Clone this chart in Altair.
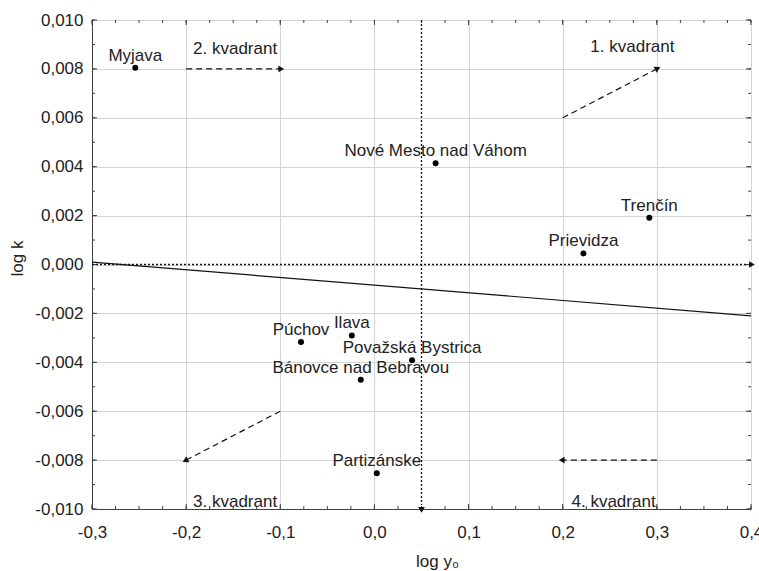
import altair as alt
import pandas as pd

# --- data ---
cities = ["Myjava", "Nové Mesto nad Váhom", "Trenčín", "Prievidza", "Púchov",
          "Ilava", "Bánovce nad Bebravou", "Považská Bystrica", "Partizánske"]
log_y0 = [-0.254, 0.065, 0.292, 0.222, -0.078, -0.024, -0.0145, 0.040, 0.0025]
log_k = [0.00805, 0.00414, 0.00191, 0.00045, -0.00317, -0.0029, -0.00471, -0.00392, -0.00854]

# regression line end points
reg_x = [-0.3, 0.4]
reg_y = [0.0001, -0.0021]

# quadrant labels
quad_text = ["1. kvadrant", "2. kvadrant", "3. kvadrant", "4. kvadrant"]
quad_x = [0.274, -0.148, -0.148, 0.254]
quad_y = [0.0087, 0.0086, -0.0099, -0.0099]

# dashed quadrant arrows (start -> end)
arr_x1 = [0.2, -0.2, -0.1, 0.3]
arr_y1 = [0.006, 0.008, -0.006, -0.008]
arr_x2 = [0.3, -0.1, -0.2, 0.2]
arr_y2 = [0.008, 0.008, -0.008, -0.008]
arr_angle = [62.6, 90, 242.6, 270]

# dotted reference lines
ref_x = 0.05
ref_y = 0.0

x_ticks = [-0.3, -0.2, -0.1, 0.0, 0.1, 0.2, 0.3, 0.4]
y_ticks = [-0.010, -0.008, -0.006, -0.004, -0.002, 0.0, 0.002, 0.004, 0.006, 0.008, 0.010]
x_minor = [round(-0.3 + 0.025 * i, 4) for i in range(29)]
y_minor = [round(-0.010 + 0.001 * i, 4) for i in range(21)]

W, H = 659, 489
FONT = "Liberation Sans"
FS = 17

xs = alt.Scale(domain=[-0.3, 0.4], nice=False, zero=False)
ys = alt.Scale(domain=[-0.010, 0.010], nice=False, zero=False)

x_axis = alt.Axis(
    values=x_ticks, title="log y₀", grid=True, gridColor="#d4d4d4",
    labelExpr="replace(replace(format(datum.value, '.1f'), '.', ','), '\u2212', '-')",
    ticks=False, labelPadding=15, labelFontSize=FS, labelFont=FONT, labelColor="#222",
    labelFlush=False,
    domainColor="#404040", titleFont=FONT, titleFontSize=FS, titleFontWeight="normal",
    titleColor="#222", titleX=345, titleY=52, titleBaseline="middle", titleAlign="center",
)
y_axis = alt.Axis(
    values=y_ticks, title="log k", grid=True, gridColor="#d4d4d4",
    labelExpr="replace(replace(format(datum.value, '.3f'), '.', ','), '\u2212', '-')",
    ticks=False, labelPadding=9, labelFontSize=FS, labelFont=FONT, labelColor="#222",
    labelFlush=False,
    domainColor="#404040", titleFont=FONT, titleFontSize=FS, titleFontWeight="normal",
    titleColor="#222", titleX=-75, titleY=238, titleBaseline="middle", titleAlign="center",
    titleAngle=270,
)

pts = pd.DataFrame({"city": cities, "x": log_y0, "y": log_k})
reg = pd.DataFrame({"x": reg_x, "y": reg_y})
quad = pd.DataFrame({"t": quad_text, "x": quad_x, "y": quad_y})
arr = pd.DataFrame({"x1": arr_x1, "y1": arr_y1, "x2": arr_x2, "y2": arr_y2, "a": arr_angle})

grid_base = alt.Chart(pd.DataFrame({"x": [ref_x], "y": [ref_y]})).mark_point(opacity=0).encode(
    x=alt.X("x:Q", scale=xs, axis=x_axis), y=alt.Y("y:Q", scale=ys, axis=y_axis)
)

reg_line = alt.Chart(reg).mark_line(color="#111", strokeWidth=1.2).encode(
    x=alt.X("x:Q", scale=xs), y=alt.Y("y:Q", scale=ys)
)

hline = alt.Chart(pd.DataFrame({"y": [ref_y]})).mark_rule(
    color="#111", strokeDash=[2, 2], strokeWidth=1.3
).encode(y=alt.Y("y:Q", scale=ys), x=alt.value(0), x2=alt.value(W - 4))

vline = alt.Chart(pd.DataFrame({"x": [ref_x]})).mark_rule(
    color="#111", strokeDash=[2, 2], strokeWidth=1.3
).encode(x=alt.X("x:Q", scale=xs), y=alt.value(0), y2=alt.value(H - 4))

ref_heads = pd.DataFrame({"x": [0.4, ref_x], "y": [ref_y, -0.010], "a": [90, 180]})
ref_head = alt.Chart(ref_heads).mark_point(
    shape="triangle", filled=True, color="#111", size=45, opacity=1
).encode(
    x=alt.X("x:Q", scale=xs), y=alt.Y("y:Q", scale=ys), angle=alt.Angle("a:Q", scale=None)
)

arrows = alt.Chart(arr).mark_rule(color="#111", strokeDash=[6, 4], strokeWidth=1.2).encode(
    x=alt.X("x1:Q", scale=xs), y=alt.Y("y1:Q", scale=ys), x2="x2:Q", y2="y2:Q"
)
heads = alt.Chart(arr).mark_point(shape="triangle", filled=True, color="#111", size=45, opacity=1).encode(
    x=alt.X("x2:Q", scale=xs), y=alt.Y("y2:Q", scale=ys), angle=alt.Angle("a:Q", scale=None)
)

dots = alt.Chart(pts).mark_circle(color="#000", size=36, opacity=1).encode(
    x=alt.X("x:Q", scale=xs), y=alt.Y("y:Q", scale=ys)
)
labels = alt.Chart(pts).mark_text(
    font=FONT, fontSize=FS, color="#222", align="center", baseline="alphabetic", dy=-7
).encode(x=alt.X("x:Q", scale=xs), y=alt.Y("y:Q", scale=ys), text="city:N")

quad_labels = alt.Chart(quad).mark_text(
    font=FONT, fontSize=FS, color="#222", align="center", baseline="alphabetic"
).encode(x=alt.X("x:Q", scale=xs), y=alt.Y("y:Q", scale=ys), text="t:N")

# inward ticks on all four sides
xt_major = pd.DataFrame({"x": x_ticks})
xt_minor = pd.DataFrame({"x": x_minor})
yt_major = pd.DataFrame({"y": y_ticks})
yt_minor = pd.DataFrame({"y": y_minor})
tick_layers = []
for df, ln in [(xt_major, 5), (xt_minor, 3)]:
    tick_layers.append(alt.Chart(df).mark_rule(color="#404040").encode(
        x=alt.X("x:Q", scale=xs), y=alt.value(H), y2=alt.value(H - ln)))
    tick_layers.append(alt.Chart(df).mark_rule(color="#404040").encode(
        x=alt.X("x:Q", scale=xs), y=alt.value(0), y2=alt.value(ln)))
for df, ln in [(yt_major, 5), (yt_minor, 3)]:
    tick_layers.append(alt.Chart(df).mark_rule(color="#404040").encode(
        y=alt.Y("y:Q", scale=ys), x=alt.value(0), x2=alt.value(ln)))
    tick_layers.append(alt.Chart(df).mark_rule(color="#404040").encode(
        y=alt.Y("y:Q", scale=ys), x=alt.value(W), x2=alt.value(W - ln)))

chart = alt.layer(
    grid_base, *tick_layers, reg_line, hline, vline, ref_head, arrows, heads,
    dots, labels, quad_labels
).properties(
    width=W, height=H,
    autosize=alt.AutoSizeParams(type="none"),
    padding={"left": 92, "top": 20, "right": 8, "bottom": 62},
).configure_view(stroke="#404040", strokeWidth=1.2).configure(background="white")

chart.save("out.html", embed_options={"renderer": "svg", "actions": False})
